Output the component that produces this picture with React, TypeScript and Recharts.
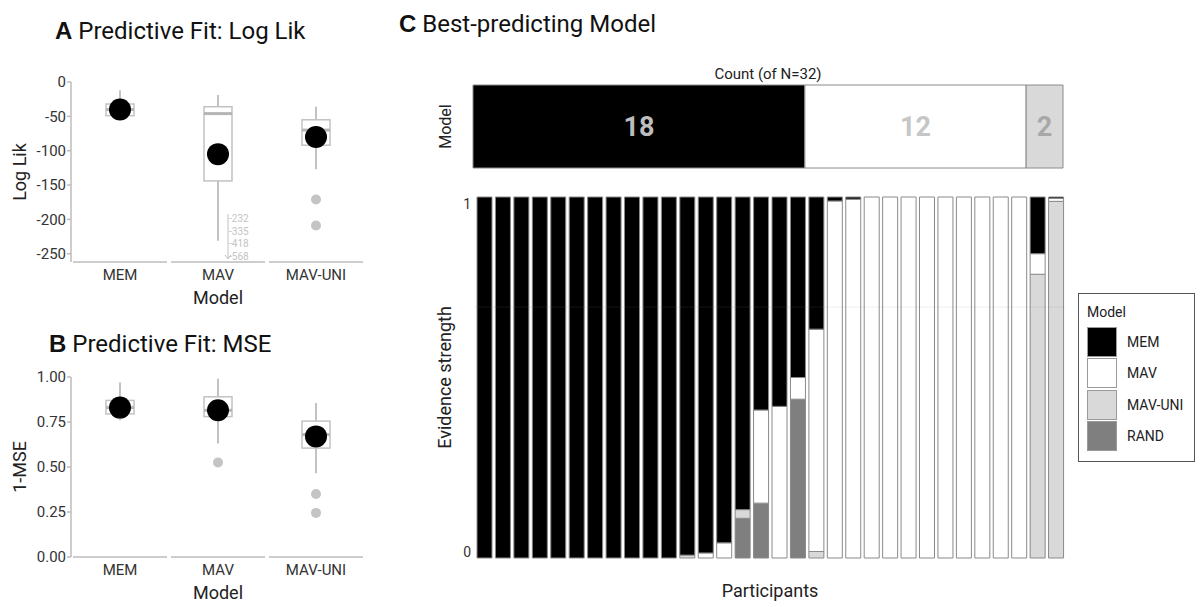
import {
  ComposedChart,
  BarChart,
  Bar,
  Line,
  XAxis,
  YAxis,
  LabelList,
  ReferenceLine,
} from 'recharts';

const models = ['MEM', 'MAV', 'MAV-UNI'];

// panel A: predictive fit, log likelihood
const llLo = [-52, -231, -127];
const llQ1 = [-49, -144, -92];
const llMed = [-40, -46, -70];
const llQ3 = [-32, -36, -55];
const llHi = [-12, -19, -36];
const llMean = [-40, -105, -80];
const llOut1 = [null, null, -171];
const llOut2 = [null, null, -209];
const llOffScale = [[], [-232, -335, -418, -568], []];
const llTicks = [0, -50, -100, -150, -200, -250];
const llDomain = [-262, 0];

// panel B: predictive fit, 1-MSE
const mseLo = [0.76, 0.63, 0.465];
const mseQ1 = [0.795, 0.78, 0.605];
const mseMed = [0.83, 0.815, 0.68];
const mseQ3 = [0.87, 0.89, 0.755];
const mseHi = [0.97, 0.99, 0.855];
const mseMean = [0.83, 0.815, 0.67];
const mseOut1 = [null, 0.525, 0.35];
const mseOut2 = [null, null, 0.245];
const mseTicks = [0, 0.25, 0.5, 0.75, 1];
const mseDomain = [0, 1];

// panel C: best-predicting model
const countMEM = 18;
const countMAV = 12;
const countMAVUNI = 2;

const participants = [
  'S01', 'S02', 'S03', 'S04', 'S05', 'S06', 'S07', 'S08',
  'S09', 'S10', 'S11', 'S12', 'S13', 'S14', 'S15', 'S16',
  'S17', 'S18', 'S19', 'S20', 'S21', 'S22', 'S23', 'S24',
  'S25', 'S26', 'S27', 'S28', 'S29', 'S30', 'S31', 'S32',
];
const evMEM = [
  1, 1, 1, 1, 1, 1, 1, 1, 1, 1, 1, 0.992, 0.986, 0.958, 0.866, 0.59,
  0.58, 0.5, 0.366, 0.011, 0.006, 0, 0, 0, 0, 0, 0, 0, 0, 0, 0.157, 0.004,
];
const evMAV = [
  0, 0, 0, 0, 0, 0, 0, 0, 0, 0, 0, 0, 0.014, 0.042, 0, 0.258,
  0.42, 0.06, 0.616, 0.989, 0.994, 1, 1, 1, 1, 1, 1, 1, 1, 1, 0.057, 0.008,
];
const evMAVUNI = [
  0, 0, 0, 0, 0, 0, 0, 0, 0, 0, 0, 0.008, 0, 0, 0.024, 0,
  0, 0, 0.018, 0, 0, 0, 0, 0, 0, 0, 0, 0, 0, 0, 0.786, 0.988,
];
const evRAND = [
  0, 0, 0, 0, 0, 0, 0, 0, 0, 0, 0, 0, 0, 0, 0.11, 0.152,
  0, 0.44, 0, 0, 0, 0, 0, 0, 0, 0, 0, 0, 0, 0, 0, 0,
];
const evTicks = [0, 1];
const faintLine = 0.695;

const legendModels = ['MEM', 'MAV', 'MAV-UNI', 'RAND'];

const colors: Record<string, string> = {
  MEM: '#000000',
  MAV: '#ffffff',
  'MAV-UNI': '#d9d9d9',
  RAND: '#7f7f7f',
};
const AXIS = '#bdbdbd';
const BOX = '#c2c2c2';
const TEXT = '#333333';
const OUTLINE = '#8a8a8a';

const llData = models.map((m, i) => ({
  model: m,
  box: [llQ1[i], llQ3[i]],
  q1: llQ1[i],
  q3: llQ3[i],
  lo: llLo[i],
  hi: llHi[i],
  med: llMed[i],
  mean: llMean[i],
  out1: llOut1[i],
  out2: llOut2[i],
  offScale: llOffScale[i],
}));

const mseData = models.map((m, i) => ({
  model: m,
  box: [mseQ1[i], mseQ3[i]],
  q1: mseQ1[i],
  q3: mseQ3[i],
  lo: mseLo[i],
  hi: mseHi[i],
  med: mseMed[i],
  mean: mseMean[i],
  out1: mseOut1[i],
  out2: mseOut2[i],
  offScale: [],
}));

const countData = [
  { name: 'count', MEM: countMEM, MAV: countMAV, 'MAV-UNI': countMAVUNI },
];

const evidenceData = participants.map((p, i) => ({
  id: p,
  MEM: evMEM[i],
  MAV: evMAV[i],
  'MAV-UNI': evMAVUNI[i],
  RAND: evRAND[i],
}));

const makeBoxShape = (domainMin: number) => (props: any) => {
  const { x, y, width, height, payload } = props;
  const top = Math.min(y, y + height);
  const h = Math.abs(height);
  const k = h / (payload.q3 - payload.q1);
  const py = (v: number) => top + (payload.q3 - v) * k;
  const cx = x + width / 2;
  const bottom = py(domainMin);
  const off: number[] = payload.offScale || [];
  return (
    <g>
      <line x1={cx} x2={cx} y1={py(payload.hi)} y2={py(payload.lo)} stroke={BOX} strokeWidth={2} />
      <rect x={x} y={top} width={width} height={h} fill="#fff" stroke={BOX} strokeWidth={1.5} />
      <line x1={x} x2={x + width} y1={py(payload.med)} y2={py(payload.med)} stroke="#b5b5b5" strokeWidth={3} />
      {off.length > 0 && (
        <g>
          <line x1={cx + 10} x2={cx + 10} y1={bottom - 48} y2={bottom - 3} stroke={BOX} strokeWidth={1} />
          <path d={`M${cx + 7},${bottom - 7} L${cx + 10},${bottom - 3} L${cx + 13},${bottom - 7}`} fill="none" stroke={BOX} strokeWidth={1} />
          {off.map((v, i) => (
            <text key={v} x={cx + 11} y={bottom - 40 + i * 12.5} fontSize={10} fill="#c4c4c4">
              {v}
            </text>
          ))}
        </g>
      )}
    </g>
  );
};

const SegTick = (props: any) => {
  const { x, y, payload } = props;
  return (
    <g>
      <line x1={x - 47} x2={x + 47} y1={y} y2={y} stroke={AXIS} strokeWidth={1.5} />
      <text x={x} y={y + 18} textAnchor="middle" fontSize={15} fill={TEXT}>
        {payload.value}
      </text>
    </g>
  );
};

function BoxPanel({
  data,
  domain,
  ticks,
  yLabel,
  fmt,
  height,
  top,
}: {
  data: any[];
  domain: number[];
  ticks: number[];
  yLabel: string;
  fmt: (v: number) => string;
  height: number;
  top: number;
}) {
  return (
    <ComposedChart
      width={380}
      height={height}
      data={data}
      margin={{ top, right: 15, bottom: 8, left: 10 }}
    >
      <XAxis
        dataKey="model"
        axisLine={false}
        tickLine={false}
        tickSize={0}
        tickMargin={0}
        height={42}
        tick={<SegTick />}
        label={{ value: 'Model', position: 'insideBottom', offset: 0, fontSize: 18, fill: '#222' }}
      />
      <YAxis
        type="number"
        domain={domain}
        ticks={ticks}
        allowDataOverflow
        width={61}
        tickFormatter={fmt}
        tick={{ fontSize: 15, fill: TEXT }}
        tickSize={4}
        tickMargin={1}
        axisLine={{ stroke: AXIS, strokeWidth: 1.5 }}
        tickLine={{ stroke: AXIS, strokeWidth: 1.5 }}
        label={{
          value: yLabel,
          angle: -90,
          position: 'insideLeft',
          offset: 10,
          fontSize: 18,
          fill: '#222',
          style: { textAnchor: 'middle' },
        }}
      />
      <Bar dataKey="box" barSize={28} shape={makeBoxShape(domain[0])} isAnimationActive={false} />
      <Line dataKey="out1" stroke="none" dot={{ r: 5, fill: '#c4c4c4', stroke: 'none' }} activeDot={false} isAnimationActive={false} />
      <Line dataKey="out2" stroke="none" dot={{ r: 5, fill: '#c4c4c4', stroke: 'none' }} activeDot={false} isAnimationActive={false} />
      <Line dataKey="mean" stroke="none" dot={{ r: 11, fill: '#000', stroke: 'none' }} activeDot={false} isAnimationActive={false} />
    </ComposedChart>
  );
}

const Title = ({ letter, text, left, top }: { letter: string; text: string; left: number; top: number }) => (
  <div style={{ position: 'absolute', left, top, fontSize: 24, lineHeight: '24px', whiteSpace: 'nowrap', color: '#111' }}>
    <span style={{ fontFamily: '"Liberation Sans", Arial, sans-serif', fontWeight: 'bold' }}>{letter}</span>{' '}
    {text}
  </div>
);

const EvTick = (props: any) => {
  const { x, y, payload } = props;
  return (
    <text x={x} y={y + (payload.value === 1 ? 12 : -1)} textAnchor="end" fontSize={14} fill={TEXT}>
      {payload.value}
    </text>
  );
};

export default function App() {
  return (
    <div
      style={{
        position: 'absolute',
        left: 0,
        top: 0,
        width: 1200,
        height: 607,
        background: '#fff',
        fontFamily: 'Roboto, sans-serif',
        overflow: 'hidden',
      }}
    >
      <Title letter="A" text="Predictive Fit: Log Lik" left={55} top={19} />
      <Title letter="B" text="Predictive Fit: MSE" left={49} top={332} />
      <Title letter="C" text="Best-predicting Model" left={399} top={12} />

      <div style={{ position: 'absolute', left: 0, top: 0 }}>
        <BoxPanel data={llData} domain={llDomain} ticks={llTicks} yLabel="Log Lik" fmt={(v) => `${v}`} height={312} top={82} />
      </div>
      <div style={{ position: 'absolute', left: 0, top: 300 }}>
        <BoxPanel data={mseData} domain={mseDomain} ticks={mseTicks} yLabel="1-MSE" fmt={(v) => v.toFixed(2)} height={307} top={77} />
      </div>

      <div style={{ position: 'absolute', left: 380, top: 60 }}>
        <BarChart
          width={700}
          height={120}
          data={countData}
          layout="vertical"
          barCategoryGap={0}
          margin={{ top: 5, right: 17, bottom: 12, left: 63 }}
        >
          <XAxis
            type="number"
            domain={[0, countMEM + countMAV + countMAVUNI]}
            orientation="top"
            tick={false}
            axisLine={false}
            tickLine={false}
            height={20}
            label={{ value: 'Count (of N=32)', position: 'insideTop', offset: 3, fontSize: 15, fill: '#222' }}
          />
          <YAxis
            type="category"
            dataKey="name"
            tick={false}
            axisLine={false}
            tickLine={false}
            width={30}
            label={{
              value: 'Model',
              angle: -90,
              position: 'insideLeft',
              offset: 2,
              fontSize: 16,
              fill: '#222',
              style: { textAnchor: 'middle' },
            }}
          />
          <Bar dataKey="MEM" stackId="c" fill={colors.MEM} stroke={OUTLINE} strokeWidth={1} isAnimationActive={false}>
            <LabelList dataKey="MEM" position="center" fill="#bdbdbd" fontSize={27} fontWeight="bold" />
          </Bar>
          <Bar dataKey="MAV" stackId="c" fill={colors.MAV} stroke={OUTLINE} strokeWidth={1} isAnimationActive={false}>
            <LabelList dataKey="MAV" position="center" fill="#c6c6c6" fontSize={27} fontWeight="bold" />
          </Bar>
          <Bar dataKey="MAV-UNI" stackId="c" fill={colors['MAV-UNI']} stroke={OUTLINE} strokeWidth={1} isAnimationActive={false}>
            <LabelList dataKey="MAV-UNI" position="center" fill="#a8a8a8" fontSize={27} fontWeight="bold" />
          </Bar>
        </BarChart>
      </div>

      <div style={{ position: 'absolute', left: 380, top: 180 }}>
        <BarChart
          width={820}
          height={427}
          data={evidenceData}
          barSize={15}
          margin={{ top: 17, right: 135, bottom: 9, left: 65 }}
        >
          <XAxis
            dataKey="id"
            tick={false}
            axisLine={false}
            tickLine={false}
            height={40}
            label={{ value: 'Participants', position: 'insideBottom', offset: 1, fontSize: 18, fill: '#222' }}
          />
          <YAxis
            type="number"
            domain={[0, 1]}
            ticks={evTicks}
            width={30}
            axisLine={false}
            tickLine={false}
            tickSize={0}
            tickMargin={4}
            tick={<EvTick />}
            label={{
              value: 'Evidence strength',
              angle: -90,
              position: 'insideLeft',
              offset: 0,
              fontSize: 18,
              fill: '#222',
              style: { textAnchor: 'middle' },
            }}
          />
          <Bar dataKey="RAND" stackId="e" fill={colors.RAND} stroke={OUTLINE} strokeWidth={1} isAnimationActive={false} />
          <Bar dataKey="MAV-UNI" stackId="e" fill={colors['MAV-UNI']} stroke={OUTLINE} strokeWidth={1} isAnimationActive={false} />
          <Bar dataKey="MAV" stackId="e" fill={colors.MAV} stroke={OUTLINE} strokeWidth={1} isAnimationActive={false} />
          <Bar dataKey="MEM" stackId="e" fill={colors.MEM} stroke={OUTLINE} strokeWidth={1} isAnimationActive={false} />
          <ReferenceLine y={faintLine} stroke="#888" strokeOpacity={0.15} strokeWidth={1} />
        </BarChart>
      </div>

      <div
        style={{
          position: 'absolute',
          left: 1078,
          top: 293,
          width: 115,
          height: 167,
          border: '1px solid #555',
          fontSize: 14,
          color: '#222',
        }}
      >
        <div style={{ position: 'absolute', left: 8, top: 10, lineHeight: '16px' }}>Model</div>
        {legendModels.map((m, i) => (
          <div key={m} style={{ position: 'absolute', left: 8, top: 32 + i * 31.5, height: 31, display: 'flex', alignItems: 'center' }}>
            <div style={{ width: 30, height: 30, boxSizing: 'border-box', background: colors[m], border: '1px solid #9a9a9a' }} />
            <span style={{ marginLeft: 10 }}>{m}</span>
          </div>
        ))}
      </div>
    </div>
  );
}
